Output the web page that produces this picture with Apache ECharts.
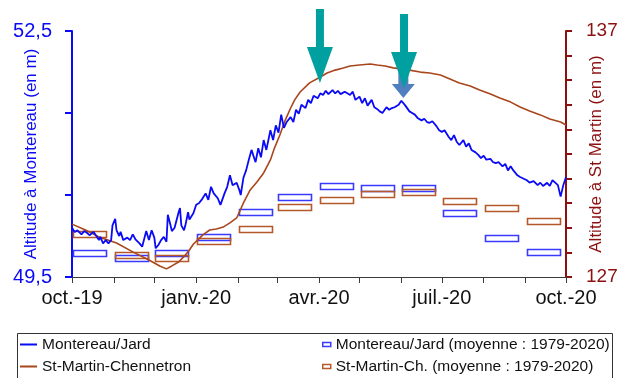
<!DOCTYPE html>
<html>
<head>
<meta charset="utf-8">
<script src="https://cdn.jsdelivr.net/npm/echarts@6/dist/echarts.min.js"></script>
<style>html,body{margin:0;padding:0;background:#fff}#c{width:620px;height:378px}</style>
</head>
<body>
<div id="c"></div>
<script>
// ---- data ----
const monthStarts = [0, 31, 61, 92, 123, 152, 183, 213, 244, 274, 305, 336, 366];
const tickLabelDays = [0, 92, 183, 274, 366];
const tickLabels = ['oct.-19', 'janv.-20', 'avr.-20', 'juil.-20', 'oct.-20'];

const boxDays = [13, 44, 74, 105, 136, 165, 196, 226, 257, 287, 318, 349];
const montereauMean = [49.79, 49.73, 49.79, 49.99, 50.29, 50.48, 50.61, 50.59, 50.59, 50.28, 49.98, 49.81];
const stMartinMean = [128.73, 127.91, 127.79, 128.46, 128.97, 129.83, 130.15, 130.39, 130.46, 130.09, 129.80, 129.26];

const montereauDays = [0,2,4,7,9,11,13,16,18,20,21,23,25,27,29,30,32,33,35,36,38,41,43,45,47,50,52,53,55,57,59,61,62,64,66,68,70,71,73,74,76,79,80,81,83,84,86,87,90,92,94,96,99,101,103,105,108,110,113,115,117,119,122,124,125,127,129,131,133,136,138,140,142,144,147,149,151,153,155,157,159,162,164,166,168,170,173,175,177,179,182,184,186,188,190,193,195,197,199,202,204,206,208,210,213,215,217,219,222,224,226,228,230,233,235,237,239,242,244,245,247,250,252,254,256,259,261,263,265,267,270,272,274,276,279,281,283,285,287,290,292,294,296,299,301,303,305,307,310,312,314,316,319,321,323,325,327,330,332,333,337,339,342,345,347,349,352,354,356,358,360,362,364,366];
const montereauVals = [50.10,50.05,50.07,50.02,50.06,50.04,50.01,50.05,50.00,49.95,49.99,49.91,49.95,49.91,49.95,50.13,50.21,50.07,50.00,50.05,49.95,49.98,49.95,50.02,49.96,49.91,49.87,49.89,50.06,49.95,50.07,49.98,49.85,49.89,49.95,49.99,49.93,50.26,50.13,50.06,50.10,50.29,50.34,50.13,50.07,50.13,50.29,50.20,50.28,50.38,50.40,50.44,50.52,50.44,50.60,50.52,50.46,50.38,50.52,50.60,50.74,50.62,50.65,50.56,50.50,50.71,50.80,50.93,51.05,50.90,51.07,50.96,51.17,51.05,51.29,51.17,51.35,51.26,51.48,51.32,51.39,51.45,51.39,51.54,51.49,51.60,51.56,51.66,51.62,51.71,51.68,51.74,51.72,51.77,51.73,51.78,51.74,51.77,51.73,51.76,51.74,51.72,51.76,51.66,51.70,51.62,51.68,51.59,51.66,51.57,51.55,51.52,51.50,51.57,51.54,51.56,51.57,51.60,51.65,51.67,51.59,51.52,51.50,51.48,51.44,51.41,51.43,51.39,51.38,51.40,51.34,51.29,51.27,51.29,51.21,51.17,51.23,51.15,51.11,51.17,51.09,51.13,51.05,51.02,50.99,50.95,50.98,50.93,50.94,50.90,50.89,50.90,50.85,50.88,50.80,50.85,50.80,50.74,50.72,50.70,50.68,50.65,50.67,50.62,50.65,50.61,50.65,50.61,50.68,50.65,50.62,50.48,50.62,50.72];

const stMartinDays = [0,10,20,33,45,57,65,70,74,79,84,87,90,93,97,102,107,112,117,122,124,127,130,132,137,142,147,150,154,158,162,165,169,176,184,189,195,201,206,213,221,226,232,238,244,250,258,265,273,280,287,295,302,310,317,325,332,339,347,354,362,366];
const stMartinVals = [129.15,128.91,128.63,128.38,128.02,127.69,127.45,127.33,127.45,127.61,127.89,128.10,128.34,128.50,128.71,128.91,128.95,129.03,129.20,129.40,129.64,130.01,130.33,130.54,130.86,131.23,131.76,132.24,132.77,133.38,133.87,134.20,134.52,134.89,135.13,135.29,135.41,135.50,135.58,135.62,135.66,135.62,135.58,135.50,135.46,135.41,135.33,135.29,135.21,135.05,134.89,134.76,134.60,134.44,134.28,134.11,133.91,133.75,133.59,133.42,133.30,133.18];

const arrowDays = [183.7, 246];
const arrowTips = [51.866, 51.805];
const smallArrowDays = [245.5];
const smallArrowTips = [51.683];

// ---- build ----
const FONT = "'Liberation Sans', Arial, sans-serif";
const BLUE = '#0a0af5';
const BROWN = '#a8461c';
const DARKRED = '#8c1010';
const BOXBLUE = '#3a3aff';
const BOXBROWN = '#b5582a';
const zip = (a, b) => a.map((v, i) => [v, b[i]]);

const chart = echarts.init(document.getElementById('c'), null, { renderer: 'canvas' });

function arrowRender(L, H, W, S, fill) {
  return function (params, api) {
    const p = api.coord([api.value(0), api.value(1)]);
    const x = p[0], y = p[1];
    return {
      type: 'polygon',
      shape: { points: [[x, y], [x - W / 2, y - H], [x - S / 2, y - H], [x - S / 2, y - L], [x + S / 2, y - L], [x + S / 2, y - H], [x + W / 2, y - H]] },
      style: { fill: fill }
    };
  };
}
function boxRender(stroke) {
  return function (params, api) {
    const p = api.coord([api.value(0), api.value(1)]);
    const w = 33, h = 6;
    return {
      type: 'rect',
      shape: { x: Math.round(p[0] - w / 2) + 0.5, y: Math.round(p[1] - h / 2) + 0.5, width: w, height: h },
      style: { fill: 'none', stroke: stroke, lineWidth: 1.6 }
    };
  };
}

const option = {
  animation: false,
  backgroundColor: '#fff',
  textStyle: { fontFamily: FONT },
  grid: { left: 72, right: 54, top: 31, bottom: 101, containLabel: false, outerBoundsMode: 'none' },
  xAxis: {
    type: 'value', min: 0, max: 366,
    axisLine: { lineStyle: { color: '#3a3a3a', width: 1.2 } },
    axisTick: { show: true, length: 6, customValues: monthStarts, lineStyle: { color: '#3a3a3a' } },
    axisLabel: {
      customValues: tickLabelDays, margin: 11, fontSize: 20, color: '#111', fontFamily: FONT,
      formatter: v => tickLabels[tickLabelDays.indexOf(v)] || ''
    },
    splitLine: { show: false }
  },
  yAxis: [
    {
      type: 'value', position: 'left', min: 49.5, max: 52.5,
      name: 'Altitude à Montereau (en m)', nameLocation: 'middle', nameRotate: 90, nameGap: 32, nameMoveOverlap: false,
      nameTextStyle: { color: BLUE, fontSize: 17, fontFamily: FONT },
      axisLine: { show: true, lineStyle: { color: BLUE, width: 2 } },
      axisTick: { show: true, length: 7, customValues: [49.5, 50.5, 51.5, 52.5], lineStyle: { color: BLUE, width: 2 } },
      axisLabel: { customValues: [49.5, 52.5], margin: 20, fontSize: 20, color: BLUE, fontFamily: FONT,
        formatter: v => v.toFixed(1).replace('.', ',') },
      splitLine: { show: false }
    },
    {
      type: 'value', position: 'right', min: 127, max: 137, interval: 1,
      name: 'Altitude à St Martin (en m)', nameLocation: 'middle', nameRotate: 90, nameGap: 22, nameMoveOverlap: false,
      nameTextStyle: { color: DARKRED, fontSize: 17, fontFamily: FONT },
      axisLine: { show: true, lineStyle: { color: DARKRED, width: 2 } },
      axisTick: { show: true, length: 6, lineStyle: { color: DARKRED, width: 2 } },
      axisLabel: { customValues: [127, 137], margin: 20, fontSize: 19, color: DARKRED, fontFamily: FONT },
      splitLine: { show: false }
    }
  ],
  legend: [
    {
      left: 20, top: 335, orient: 'vertical', padding: 0, itemGap: 3, itemWidth: 17, itemHeight: 2, icon: 'rect',
      textStyle: { fontSize: 15.5, color: '#111', fontFamily: FONT, lineHeight: 19 },
      data: ['Montereau/Jard', 'St-Martin-Chennetron']
    },
    {
      left: 322, top: 335, orient: 'vertical', padding: 0, itemGap: 3, itemWidth: 8, itemHeight: 4, icon: 'rect',
      textStyle: { fontSize: 15.5, color: '#111', fontFamily: FONT, lineHeight: 19 },
      data: [
        { name: 'Montereau/Jard (moyenne : 1979-2020)', itemStyle: { color: '#fff', borderColor: BOXBLUE, borderWidth: 1.5 } },
        { name: 'St-Martin-Ch. (moyenne : 1979-2020)', itemStyle: { color: '#fff', borderColor: BOXBROWN, borderWidth: 1.5 } }
      ]
    }
  ],
  graphic: [
    { type: 'rect', shape: { x: 17.5, y: 333.5, width: 595, height: 60 }, style: { fill: 'none', stroke: '#333', lineWidth: 1 }, z: 100, silent: true }
  ],
  series: [
    {
      name: 'Montereau/Jard (moyenne : 1979-2020)', type: 'custom', yAxisIndex: 0, z: 2,
      itemStyle: { color: BOXBLUE },
      renderItem: boxRender(BOXBLUE),
      data: zip(boxDays, montereauMean)
    },
    {
      name: 'St-Martin-Ch. (moyenne : 1979-2020)', type: 'custom', yAxisIndex: 1, z: 2,
      itemStyle: { color: BOXBROWN },
      renderItem: boxRender(BOXBROWN),
      data: zip(boxDays, stMartinMean)
    },
    {
      name: 'St-Martin-Chennetron', type: 'line', yAxisIndex: 1, showSymbol: false, symbol: 'none',
      lineStyle: { color: BROWN, width: 1.6 }, itemStyle: { color: BROWN },
      data: zip(stMartinDays, stMartinVals), z: 3
    },
    {
      name: 'Montereau/Jard', type: 'line', yAxisIndex: 0, showSymbol: false, symbol: 'none',
      lineStyle: { color: BLUE, width: 1.8 }, itemStyle: { color: BLUE },
      data: zip(montereauDays, montereauVals), z: 4
    },
    {
      name: 'smallArrow', type: 'custom', yAxisIndex: 0, clip: false, z: 5,
      renderItem: arrowRender(28, 14, 23, 10, '#4f7fbf'),
      data: zip(smallArrowDays, smallArrowTips)
    },
    {
      name: 'arrows', type: 'custom', yAxisIndex: 0, clip: false, z: 6,
      renderItem: arrowRender(74, 36, 26, 8, '#00a0a0'),
      data: zip(arrowDays, arrowTips)
    }
  ]
};
chart.setOption(option);
</script>
</body>
</html>
